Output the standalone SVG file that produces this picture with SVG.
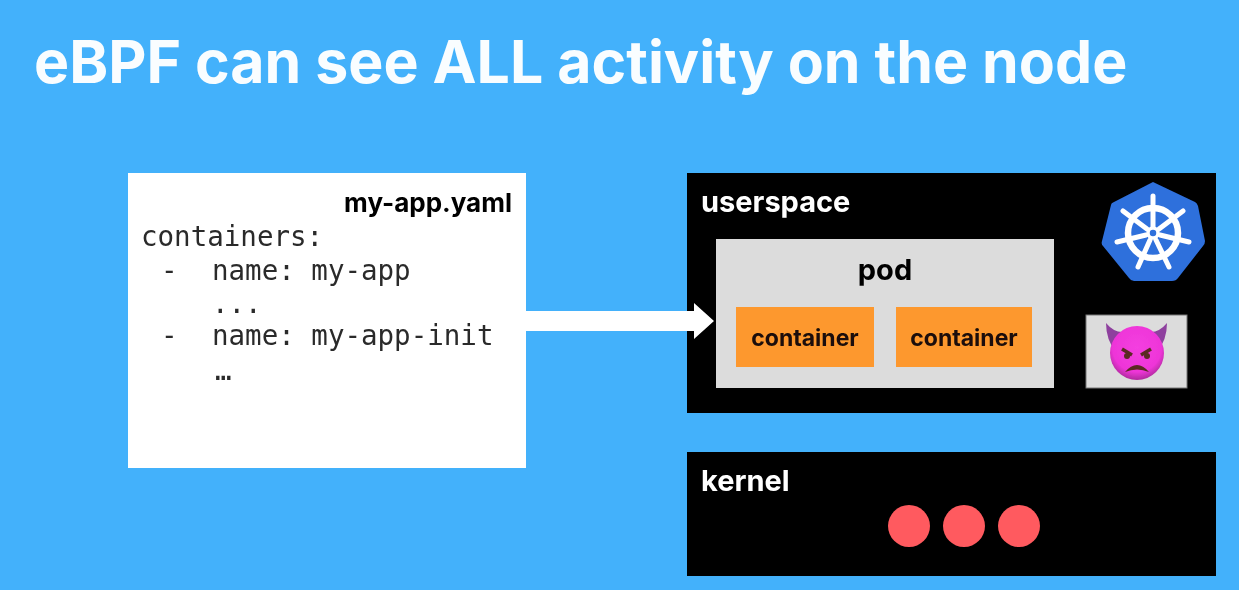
<svg xmlns="http://www.w3.org/2000/svg" width="1239" height="590" viewBox="0 0 1239 590">
<style>
.s{font-family:Inter,"Liberation Sans",sans-serif;font-weight:700;fill:#000}
.m{font-family:"DejaVu Sans Mono","Liberation Mono",monospace;font-size:27.5px;fill:#2c2c2c}
.w{font-family:Inter,"Liberation Sans",sans-serif;font-weight:700;font-size:29px;fill:#fff}
.c{font-size:23px;text-anchor:middle;fill:#1a1008}
.o{fill:#fd982e}
.r{fill:#ff5a5f}
</style>
<defs>
<filter id="soft" x="0" y="0" width="100%" height="100%"><feGaussianBlur stdDeviation="0.7"/></filter>
<radialGradient id="face" cx="50%" cy="40%" r="60%"><stop offset="0" stop-color="#f43fe0"/><stop offset="0.75" stop-color="#ee35d8"/><stop offset="1" stop-color="#b02a9e"/></radialGradient>
</defs>
<rect width="1239" height="590" fill="#43b1fb"/>
<g filter="url(#soft)">
<g id="title"><text x="34" y="83" font-family="Inter,'Liberation Sans',sans-serif" font-weight="700" font-size="59" fill="#fff" fill-opacity=".97">eBPF can see ALL activity on the node</text></g>
<g id="yaml">
<rect x="128" y="173" width="398" height="295" fill="#fff"/>
<text class="s" x="512" y="212" font-size="26" text-anchor="end">my-app.yaml</text>
<text class="m" x="141" y="246">containers:</text>
<text class="m" x="161" y="280">-</text><text class="m" x="212" y="280">name: my-app</text>
<text class="m" x="212" y="313">...</text>
<text class="m" x="161" y="345">-</text><text class="m" x="212" y="345">name: my-app-init</text>
<text class="m" x="215" y="380" font-size="16">…</text>
</g>
<g id="userspace">
<rect x="687" y="173" width="529" height="240" fill="#000"/>
<text class="w" x="701" y="212">userspace</text>
</g>
<g id="pod">
<rect x="716" y="239" width="338" height="149" fill="#dcdcdc"/>
<text class="s" x="885" y="280" font-size="29" text-anchor="middle">pod</text>
</g>
<g id="container-1"><rect class="o" x="736" y="307" width="138" height="60"/><text class="s c" x="805" y="346">container</text></g>
<g id="container-2"><rect class="o" x="896" y="307" width="136" height="60"/><text class="s c" x="964" y="346">container</text></g>
<g id="kubernetes">
<path d="M1153 182 L1195 202 Q1197 203 1198 206 L1205 241 Q1205 244 1203 246 L1178 278 Q1176 281 1172 281 L1134 281 Q1131 281 1129 278 L1103 246 Q1101 244 1102 241 L1111 205 Q1111 203 1114 202 Z" fill="#2f6fdc"/>
<g fill="none" stroke="#fff" stroke-linecap="round">
<circle cx="1153" cy="233" r="25" stroke-width="6.500"/>
<path stroke-width="5" d="M1153 196V226M1123 211L1147 229M1183 211L1159 229M1117 242L1146 235M1189 242L1160 235M1138 267L1150 240M1169 267L1156 240"/>
<circle cx="1153" cy="233" r="5" stroke-width="3.500"/>
</g>
</g>
<g id="devil">
<rect x="1086" y="315" width="101" height="73" fill="#dcdcdc" stroke="#777" stroke-width="1"/>
<path d="M1106 323 Q1116 335 1128 331 L1116 352 Q1106 340 1106 323Z M1167 323 Q1157 335 1145 331 L1157 352 Q1167 340 1167 323Z" fill="#8e3f9e"/>
<circle cx="1137" cy="353" r="27" fill="url(#face)"/>
<path d="M1122 349L1132 355M1151 349L1141 355" stroke="#5a2a20" stroke-width="3.500" fill="none"/>
<circle cx="1127" cy="356" r="3" fill="#5a2a20"/><circle cx="1147" cy="356" r="3" fill="#5a2a20"/>
<path d="M1125 372Q1137 358 1149 372Q1137 367 1125 372Z" fill="#5a2a20"/>
</g>
<g id="kernel">
<rect x="687" y="452" width="529" height="124" fill="#000"/>
<text class="w" x="701" y="491">kernel</text>
<circle class="r" cx="909" cy="526" r="21"/><circle class="r" cx="964" cy="526" r="21"/><circle class="r" cx="1019" cy="526" r="21"/>
</g>
<g id="connectors">
<path d="M526 311H694V303L714 321L694 339V331H526Z" fill="#fff"/>
</g>
</g>
</svg>
